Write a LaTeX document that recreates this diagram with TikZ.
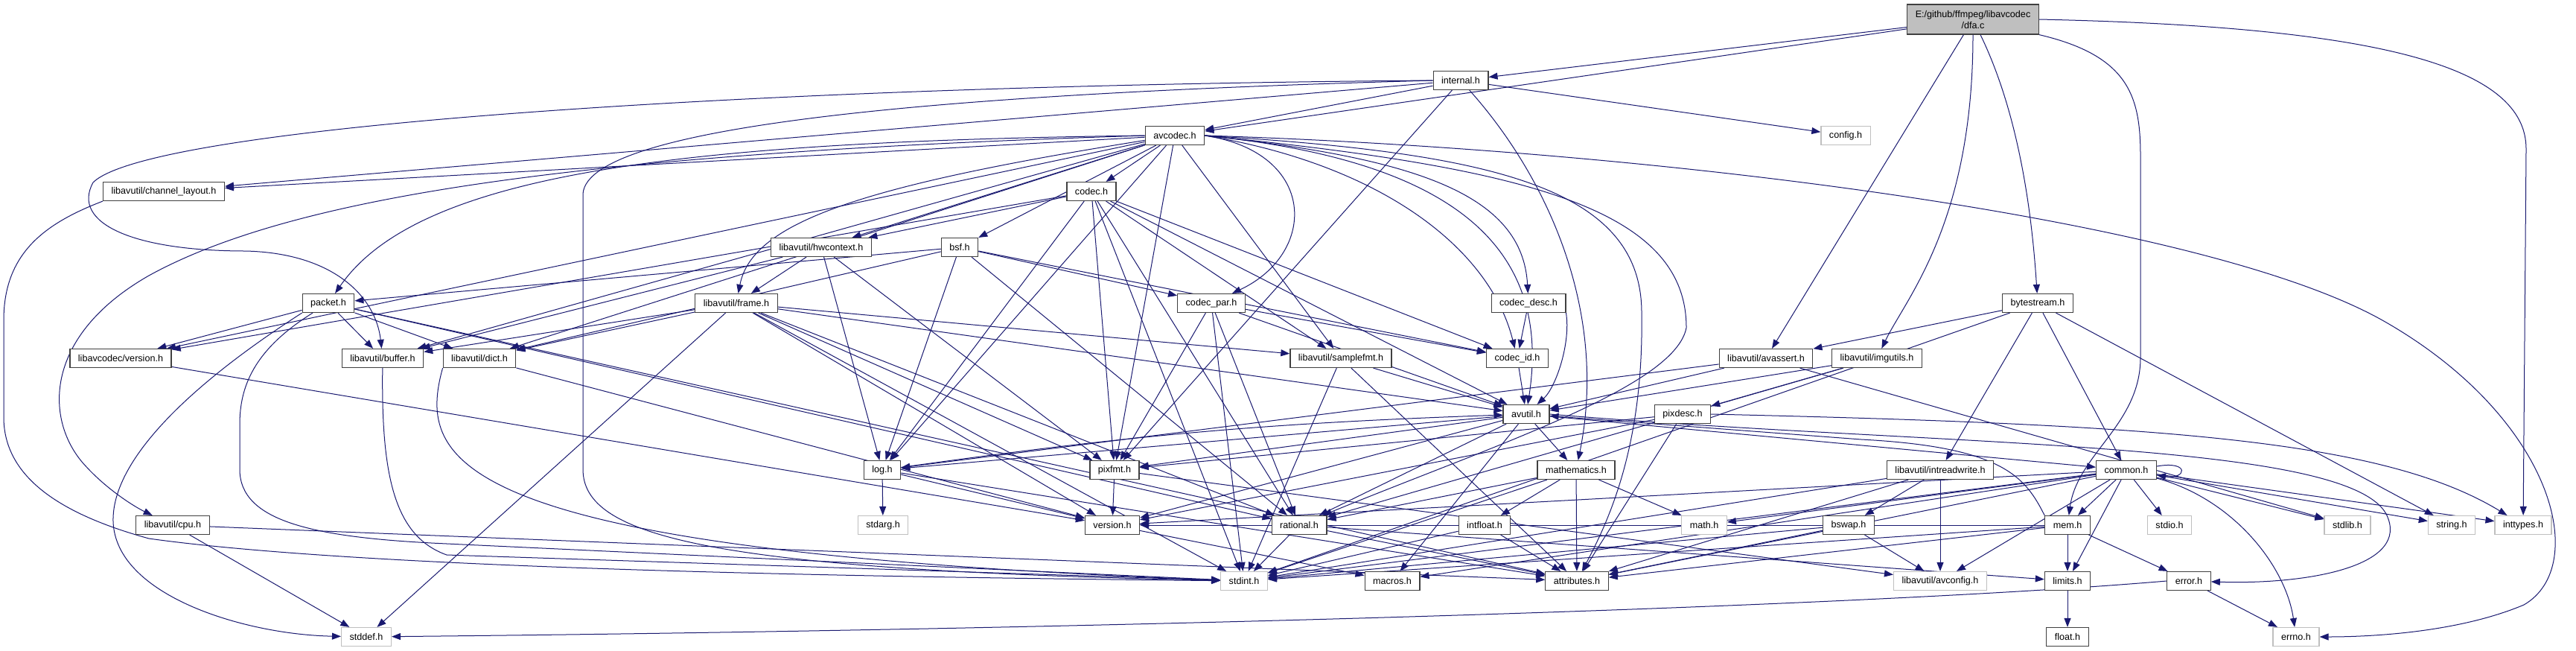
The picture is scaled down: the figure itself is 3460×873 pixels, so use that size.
\documentclass[tikz,border=0pt]{standalone}
\usepackage{fontspec}
\setmainfont{Liberation Sans}
\usetikzlibrary{arrows.meta}
\definecolor{edgeblue}{HTML}{191970}
\definecolor{boxline}{HTML}{404040}
\definecolor{sysline}{HTML}{BFBFBF}
\definecolor{rootfill}{HTML}{BFBFBF}
\pgfdeclarelayer{paper}
\pgfdeclarelayer{bg}
\pgfsetlayers{paper,bg,main}

\begin{document}
\begin{tikzpicture}[
  x=1pt,
  y=-1pt,
  every node/.style={font=\fontsize{12.6}{15}\selectfont, text=black},
  hdr/.style={draw=boxline, line width=1.2pt, fill=white, inner xsep=11pt,
              inner ysep=0pt, minimum height=25pt},
  syshdr/.style={hdr, draw=sysline},
  rootf/.style={hdr, fill=rootfill, align=center, minimum height=40pt},
  incl/.style={draw=edgeblue, line width=1pt, -{Triangle[length=12pt, width=9pt]}}
]
  \begin{pgfonlayer}{paper}
  \fill[white] (0,0) rectangle (3460,873);
  \end{pgfonlayer}
  \useasboundingbox (0,0) rectangle (3460,873);

  % ---- headers ----
  \node[rootf]  (dfa)          at (2650,26)  {E:/github/ffmpeg/libavcodec\\/dfa.c};
  \node[hdr]    (internal)     at (1962,108) {internal.h};
  \node[hdr]    (avcodec)      at (1578,182) {avcodec.h};
  \node[syshdr] (config)       at (2479,182) {config.h};
  \node[hdr]    (chlayout)     at (220,257)  {libavutil/channel\_layout.h};
  \node[hdr]    (codec)        at (1466,257) {codec.h};
  \node[hdr]    (hwctx)        at (1103,332) {libavutil/hwcontext.h};
  \node[hdr]    (bsf)          at (1289,332) {bsf.h};
  \node[hdr]    (packet)       at (441,407)  {packet.h};
  \node[hdr]    (frame)        at (989,407)  {libavutil/frame.h};
  \node[hdr]    (codecpar)     at (1627,407) {codec\_par.h};
  \node[hdr]    (codecdesc)    at (2053,407) {codec\_desc.h};
  \node[hdr]    (bytestream)   at (2737,407) {bytestream.h};
  \node[hdr]    (lcversion)    at (162,481)  {libavcodec/version.h};
  \node[hdr]    (buffer)       at (514,481)  {libavutil/buffer.h};
  \node[hdr]    (dict)         at (644,481)  {libavutil/dict.h};
  \node[hdr]    (samplefmt)    at (1801,481) {libavutil/samplefmt.h};
  \node[hdr]    (codecid)      at (2038,481) {codec\_id.h};
  \node[hdr]    (avassert)     at (2372,481) {libavutil/avassert.h};
  \node[hdr]    (imgutils)     at (2521,481) {libavutil/imgutils.h};
  \node[hdr]    (avutil)       at (2050,556) {avutil.h};
  \node[hdr]    (pixdesc)      at (2260,556) {pixdesc.h};
  \node[hdr]    (logh)         at (1185,631) {log.h};
  \node[hdr]    (pixfmt)       at (1497,631) {pixfmt.h};
  \node[hdr]    (mathematics)  at (2117,631) {mathematics.h};
  \node[hdr]    (intreadwrite) at (2606,631) {libavutil/intreadwrite.h};
  \node[hdr]    (common)       at (2856,631) {common.h};
  \node[hdr]    (cpu)          at (232,705)  {libavutil/cpu.h};
  \node[syshdr] (stdarg)       at (1186,705) {stdarg.h};
  \node[hdr]    (version)      at (1494,705) {version.h};
  \node[hdr]    (rational)     at (1745,705) {rational.h};
  \node[hdr]    (intfloat)     at (1994,705) {intfloat.h};
  \node[syshdr] (mathh)        at (2289,705) {math.h};
  \node[hdr]    (bswap)        at (2483,705) {bswap.h};
  \node[hdr]    (mem)          at (2777,705) {mem.h};
  \node[syshdr] (stdio)        at (2914,705) {stdio.h};
  \node[syshdr] (stdlib)       at (3153,705) {stdlib.h};
  \node[syshdr] (string)       at (3293,705) {string.h};
  \node[syshdr] (inttypes)     at (3389,705) {inttypes.h};
  \node[syshdr] (stdint)       at (1671,780) {stdint.h};
  \node[hdr]    (macros)       at (1870,780) {macros.h};
  \node[hdr]    (attributes)   at (2118,780) {attributes.h};
  \node[syshdr] (avconfig)     at (2606,780) {libavutil/avconfig.h};
  \node[hdr]    (limits)       at (2777,780) {limits.h};
  \node[hdr]    (error)        at (2940,780) {error.h};
  \node[syshdr] (stddef)       at (492,855)  {stddef.h};
  \node[hdr]    (float)        at (2777,855) {float.h};
  \node[syshdr] (errno)        at (3084,855) {errno.h};

  \begin{pgfonlayer}{bg}
  % ---- dfa.c ----
  \draw[incl] (dfa) -- (internal);
  \draw[incl] (dfa) -- (avcodec);
  \draw[incl] (dfa) -- (avassert);
  \draw[incl] (dfa) .. controls (2650,300) and (2560,400) .. (imgutils);
  \draw[incl] (dfa) .. controls (2715,160) and (2730,300) .. (bytestream);
  \draw[incl] (dfa.south east) .. controls (2860,75) and (2875,130) .. (2875,210)
    -- (2875,480) .. controls (2875,570) and (2790,610) .. (mem);
  \draw[incl] (dfa.east) .. controls (3200,36) and (3393,90) .. (3393,200) -- (inttypes);

  % ---- internal.h ----
  \draw[incl] (internal) -- (avcodec);
  \draw[incl] (internal) -- (config);
  \draw[incl] (internal) -- (chlayout);
  \draw[incl] (internal.west) .. controls (1000,115) and (200,170) .. (125,245)
    .. controls (95,300) and (180,337) .. (330,337) .. controls (450,340) and (505,400) .. (buffer);
  \draw[incl] (internal.west) .. controls (1300,125) and (790,165) .. (783,260)
    -- (783,630) .. controls (783,720) and (950,765) .. (stdint);
  \draw[incl] (internal) .. controls (2080,240) and (2160,420) .. (mathematics);
  \draw[incl] (internal) -- (pixfmt);

  % ---- avcodec.h ----
  \draw[incl] (avcodec.east) .. controls (2200,200) and (2950,290) .. (3200,430)
    .. controls (3430,560) and (3480,760) .. (3390,812) .. controls (3300,850) and (3180,855) .. (errno);
  \draw[incl] (avcodec) -- (samplefmt);
  \draw[incl] (avcodec.east) .. controls (2000,205) and (2205,250) .. (2205,420)
    .. controls (2208,600) and (2160,700) .. (attributes);
  \draw[incl] (avcodec.east) .. controls (1950,215) and (2085,330) .. (avutil);
  \draw[incl] (avcodec) -- (buffer);
  \draw[incl] (avcodec.west) .. controls (800,205) and (400,260) .. (200,370)
    .. controls (60,450) and (60,560) .. (110,620) .. controls (140,655) and (180,680) .. (cpu);
  \draw[incl] (avcodec) -- (chlayout);
  \draw[incl] (avcodec) -- (dict);
  \draw[incl] (avcodec) .. controls (1150,250) and (1010,300) .. (frame);
  \draw[incl] (avcodec) -- (hwctx);
  \draw[incl] (avcodec) -- (logh);
  \draw[incl] (avcodec) -- (pixfmt);
  \draw[incl] (avcodec.east) .. controls (2050,225) and (2265,280) .. (2265,440)
    .. controls (2250,520) and (2000,600) .. (rational);
  \draw[incl] (avcodec) -- (bsf);
  \draw[incl] (avcodec) -- (codec);
  \draw[incl] (avcodec.east) .. controls (1900,212) and (2045,260) .. (codecdesc);
  \draw[incl] (avcodec.east) .. controls (1770,205) and (1770,340) .. (codecpar);
  \draw[incl] (avcodec.east) .. controls (1850,220) and (2000,330) .. (codecid);
  \draw[incl] (avcodec.west) .. controls (900,190) and (560,235) .. (packet);
  \draw[incl] (avcodec) -- (lcversion);

  % ---- codec.h ----
  \draw[incl] (codec) -- (stdint);
  \draw[incl] (codec) -- (avutil);
  \draw[incl] (codec) -- (hwctx);
  \draw[incl] (codec) -- (logh);
  \draw[incl] (codec) -- (pixfmt);
  \draw[incl] (codec) -- (rational);
  \draw[incl] (codec) -- (samplefmt);
  \draw[incl] (codec) -- (codecid);
  \draw[incl] (codec) -- (lcversion);

  % ---- bsf.h ----
  \draw[incl] (bsf) -- (dict);
  \draw[incl] (bsf) -- (logh);
  \draw[incl] (bsf) -- (rational);
  \draw[incl] (bsf) -- (codecid);
  \draw[incl] (bsf) -- (codecpar);
  \draw[incl] (bsf) -- (packet);

  % ---- codec_desc.h, codec_id.h, codec_par.h ----
  \draw[incl] (codecdesc.south east) .. controls (2110,460) and (2090,520) .. (avutil);
  \draw[incl] (codecdesc) -- (codecid);
  \draw[incl] (codecid) -- (avutil);
  \draw[incl] (codecpar) -- (stdint);
  \draw[incl] (codecpar) -- (avutil);
  \draw[incl] (codecpar) -- (rational);
  \draw[incl] (codecpar) -- (pixfmt);
  \draw[incl] (codecpar) -- (codecid);

  % ---- packet.h ----
  \draw[incl] (packet.south west) .. controls (250,520) and (150,620) .. (152,700)
    .. controls (155,800) and (330,852) .. (stddef);
  \draw[incl] (packet) .. controls (340,470) and (322,520) .. (322,570)
    -- (322,630) .. controls (322,700) and (420,722) .. (600,730) -- (stdint);
  \draw[incl] (packet) -- (attributes);
  \draw[incl] (packet) -- (buffer);
  \draw[incl] (packet) -- (dict);
  \draw[incl] (packet) -- (rational);
  \draw[incl] (packet) -- (lcversion);
  \draw[incl] (lcversion) -- (version);

  % ---- bytestream.h, avassert.h, imgutils.h ----
  \draw[incl] (bytestream) -- (stdint);
  \draw[incl] (bytestream) -- (string);
  \draw[incl] (bytestream) -- (avassert);
  \draw[incl] (bytestream) -- (common);
  \draw[incl] (bytestream) -- (intreadwrite);
  \draw[incl] (avassert) -- (stdlib);
  \draw[incl] (avassert) -- (avutil);
  \draw[incl] (avassert) -- (logh);
  \draw[incl] (imgutils) -- (avutil);
  \draw[incl] (imgutils) -- (pixdesc);
  \draw[incl] (imgutils) -- (rational);

  % ---- mem.h ----
  \draw[incl] (mem) -- (limits);
  \draw[incl] (mem) -- (stdint);
  \draw[incl] (mem) -- (attributes);
  \draw[incl] (mem) -- (error);
  \draw[incl] (mem.north west) .. controls (2720,640) and (2690,600) .. (2500,590) -- (avutil);
  \draw[incl] (mem) -- (version);

  % ---- avutil.h ----
  \draw[incl] (avutil) -- (common);
  \draw[incl] (avutil.east) .. controls (2600,600) and (3150,590) .. (3205,690)
    .. controls (3240,760) and (3100,785) .. (error);
  \draw[incl] (avutil) -- (rational);
  \draw[incl] (avutil) -- (version);
  \draw[incl] (avutil) -- (macros);
  \draw[incl] (avutil) -- (mathematics);
  \draw[incl] (avutil) -- (logh);
  \draw[incl] (avutil) -- (pixfmt);

  % ---- common.h ----
  \draw[incl] (common) .. controls (3000,670) and (3070,760) .. (errno);
  \draw[incl] (common) -- (inttypes);
  \draw[incl] (common) -- (limits);
  \draw[incl] (common) -- (mathh);
  \draw[incl] (common) -- (stdint);
  \draw[incl] (common) -- (stdio);
  \draw[incl] (common) -- (stdlib);
  \draw[incl] (common) -- (string);
  \draw[incl] (common) -- (attributes);
  \draw[incl] (common) -- (macros);
  \draw[incl] (common) -- (version);
  \draw[incl] (common) -- (avconfig);
  \draw[incl] (common) -- (mem);
  \draw[incl] ([yshift=5pt]common.east) .. controls +(45,-8) and +(40,6) .. ([yshift=-7pt]common.east);

  % ---- error.h, limits.h ----
  \draw[incl] (error) -- (errno);
  \draw[incl] (error.west) .. controls (2500,815) and (1500,845) .. (stddef);
  \draw[incl] (limits) -- (float);

  % ---- mathematics.h, rational.h, intfloat.h ----
  \draw[incl] (mathematics) -- (stdint);
  \draw[incl] (mathematics) -- (mathh);
  \draw[incl] (mathematics) -- (attributes);
  \draw[incl] (mathematics) -- (rational);
  \draw[incl] (mathematics) -- (intfloat);
  \draw[incl] (rational) -- (stdint);
  \draw[incl] (rational) -- (limits);
  \draw[incl] (rational) -- (attributes);
  \draw[incl] (intfloat) -- (stdint);
  \draw[incl] (intfloat) -- (attributes);

  % ---- log.h, pixfmt.h, version.h ----
  \draw[incl] (logh) -- (stdarg);
  \draw[incl] (logh) to[bend left=3] (avutil);
  \draw[incl] (logh) -- (attributes);
  \draw[incl] (logh) -- (version);
  \draw[incl] (pixfmt) -- (avconfig);
  \draw[incl] (pixfmt) -- (version);
  \draw[incl] (version) -- (macros);

  % ---- libavutil headers on the left ----
  \draw[incl] (cpu) -- (stddef);
  \draw[incl] (cpu) -- (attributes);
  \draw[incl] (dict.south west) .. controls (560,620) and (600,740) .. (stdint);
  \draw[incl] (dict) -- (version);
  \draw[incl] (frame) -- (stddef);
  \draw[incl] (frame) -- (stdint);
  \draw[incl] (frame) -- (avutil);
  \draw[incl] (frame) -- (buffer);
  \draw[incl] (frame) -- (dict);
  \draw[incl] (frame) -- (rational);
  \draw[incl] (frame) -- (samplefmt);
  \draw[incl] (frame) -- (pixfmt);
  \draw[incl] (frame) -- (version);
  \draw[incl] (hwctx) -- (buffer);
  \draw[incl] (hwctx) -- (frame);
  \draw[incl] (hwctx) -- (logh);
  \draw[incl] (hwctx) -- (pixfmt);
  \draw[incl] (samplefmt) -- (stdint);
  \draw[incl] (samplefmt) -- (avutil);
  \draw[incl] (samplefmt) -- (attributes);
  \draw[incl] (chlayout.south west) .. controls (60,300) and (5,340) .. (5,430)
    -- (5,560) .. controls (5,640) and (80,690) .. (200,723) .. controls (500,765) and (1200,775) .. (stdint);
  \draw[incl] (buffer) .. controls (512,640) and (530,720) .. (600,745) -- (stdint);

  % ---- pixdesc.h, intreadwrite.h, bswap.h ----
  \draw[incl] (pixdesc.east) .. controls (2900,570) and (3200,590) .. (inttypes);
  \draw[incl] (pixdesc) -- (attributes);
  \draw[incl] (pixdesc) -- (pixfmt);
  \draw[incl] (pixdesc) -- (version);
  \draw[incl] (intreadwrite) -- (stdint);
  \draw[incl] (intreadwrite) -- (avconfig);
  \draw[incl] (intreadwrite) -- (attributes);
  \draw[incl] (intreadwrite) -- (bswap);
  \draw[incl] (bswap) -- (stdint);
  \draw[incl] (bswap) -- (avconfig);
  \draw[incl] (bswap) -- (attributes);
  \end{pgfonlayer}
\end{tikzpicture}
\end{document}
